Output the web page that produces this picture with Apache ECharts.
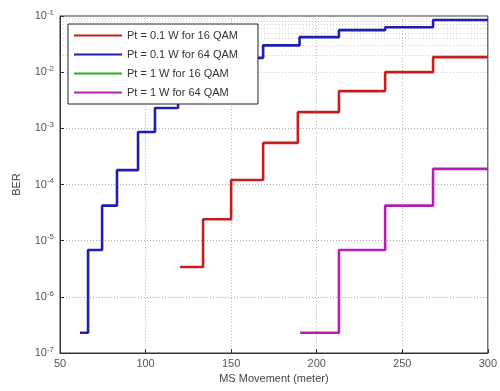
<!DOCTYPE html>
<html>
<head>
<meta charset="utf-8">
<script src="https://cdn.jsdelivr.net/npm/echarts@6/dist/echarts.min.js"></script>
<style>
  html, body { margin: 0; padding: 0; background: #fff; }
  #chart { width: 500px; height: 391px; }
</style>
</head>
<body>
<div id="chart"></div>
<script>
// data
const seriesNames = ['Pt = 0.1 W for 16 QAM', 'Pt = 0.1 W for 64 QAM', 'Pt = 1 W for 16 QAM', 'Pt = 1 W for 64 QAM'];

const red16X = [120.2, 133.6, 150, 168.7, 189, 213, 240, 268, 300];
const red16Y = [3.4e-6, 2.4e-5, 1.2e-4, 5.5e-4, 1.94e-3, 4.6e-3, 1.0e-2, 1.85e-2, 1.85e-2];

const blue64X = [61.7, 66.4, 74.6, 83.3, 95.6, 105.5, 119, 133.6, 150, 168.7, 190, 213, 240, 268, 300];
const blue64Y = [2.3e-7, 6.8e-6, 4.2e-5, 1.8e-4, 8.6e-4, 2.3e-3, 5e-3, 1e-2, 1.8e-2, 3.0e-2, 4.2e-2, 5.6e-2, 6.3e-2, 8.5e-2, 8.5e-2];

// 1 W / 16 QAM never shows inside the plotted range
const green16X = [];
const green16Y = [];

const mag64X = [190.3, 213, 240, 268, 300];
const mag64Y = [2.3e-7, 6.8e-6, 4.2e-5, 1.9e-4, 1.9e-4];

function pairs(xs, ys) {
  return xs.map((x, i) => [x, ys[i]]);
}

// dotted minor grid at 2..9 x 10^n
const minorLines = [];
for (let e = -7; e < -1; e++) {
  for (let m = 2; m <= 9; m++) {
    minorLines.push({ yAxis: m * Math.pow(10, e) });
  }
}

const colors = ['#c41e1e', '#1e1eb0', '#1eb41e', '#b41eb4'];

const chart = echarts.init(document.getElementById('chart'));
chart.setOption({
  animation: false,
  color: colors,
  grid: { left: 60, right: 12, top: 16, bottom: 38, show: true, borderColor: '#333', borderWidth: 1 },
  legend: {
    orient: 'vertical',
    left: 68, top: 24,
    backgroundColor: '#fff',
    borderColor: '#222', borderWidth: 1,
    padding: [6, 20, 6, 6],
    itemWidth: 48, itemHeight: 11, itemGap: 8,
    textStyle: { fontSize: 11, color: '#333', fontFamily: 'Liberation Sans' },
    data: seriesNames.map(n => ({ name: n, icon: 'path://M0,4 L48,4 L48,6 L0,6 Z' }))
  },
  xAxis: {
    type: 'value', min: 50, max: 300, interval: 50,
    name: 'MS Movement (meter)', nameLocation: 'middle', nameGap: 20,
    nameTextStyle: { fontSize: 11, color: '#444', fontFamily: 'Liberation Sans' },
    axisLine: { lineStyle: { color: '#333' } },
    axisTick: { inside: true, length: 4, lineStyle: { color: '#333' } },
    axisLabel: { fontSize: 11, color: '#555', margin: 5, fontFamily: 'Liberation Sans' },
    splitLine: { show: true, lineStyle: { color: '#bbb', type: [1, 2] } }
  },
  yAxis: {
    type: 'log', logBase: 10, min: 1e-7, max: 1e-1,
    name: 'BER', nameLocation: 'middle', nameGap: 38,
    nameTextStyle: { fontSize: 11, color: '#444', fontFamily: 'Liberation Sans' },
    axisLine: { lineStyle: { color: '#333' } },
    axisTick: { inside: true, length: 4, lineStyle: { color: '#333' } },
    axisLabel: {
      margin: 6,
      formatter: function (v) {
        const e = Math.round(Math.log10(v));
        return '{b|10}{s|' + e + '}';
      },
      rich: {
        b: { fontSize: 11, color: '#555', fontFamily: 'Liberation Sans' },
        s: { fontSize: 8, color: '#555', verticalAlign: 'top', padding: [0, 0, 7, 0], fontFamily: 'Liberation Sans' }
      }
    },
    splitLine: { show: true, lineStyle: { color: '#aaa', type: [1, 2] } }
  },
  series: [
    {
      name: seriesNames[0], type: 'line', step: 'end', showSymbol: false,
      lineStyle: { width: 2.6 }, data: pairs(red16X, red16Y), z: 3
    },
    {
      name: seriesNames[1], type: 'line', step: 'end', showSymbol: false,
      lineStyle: { width: 2.6 }, data: pairs(blue64X, blue64Y), z: 3
    },
    {
      name: seriesNames[2], type: 'line', step: 'end', showSymbol: false,
      lineStyle: { width: 2.6 }, data: pairs(green16X, green16Y), z: 3
    },
    {
      name: seriesNames[3], type: 'line', step: 'end', showSymbol: false,
      lineStyle: { width: 2.6 }, data: pairs(mag64X, mag64Y), z: 3
    },
    {
      name: 'minorGrid', type: 'line', data: [], silent: true, z: 0,
      markLine: {
        silent: true, symbol: 'none', label: { show: false }, z: 0,
        lineStyle: { color: '#ccc', type: [1, 2], width: 1 },
        data: minorLines
      }
    }
  ]
});
</script>
</body>
</html>
